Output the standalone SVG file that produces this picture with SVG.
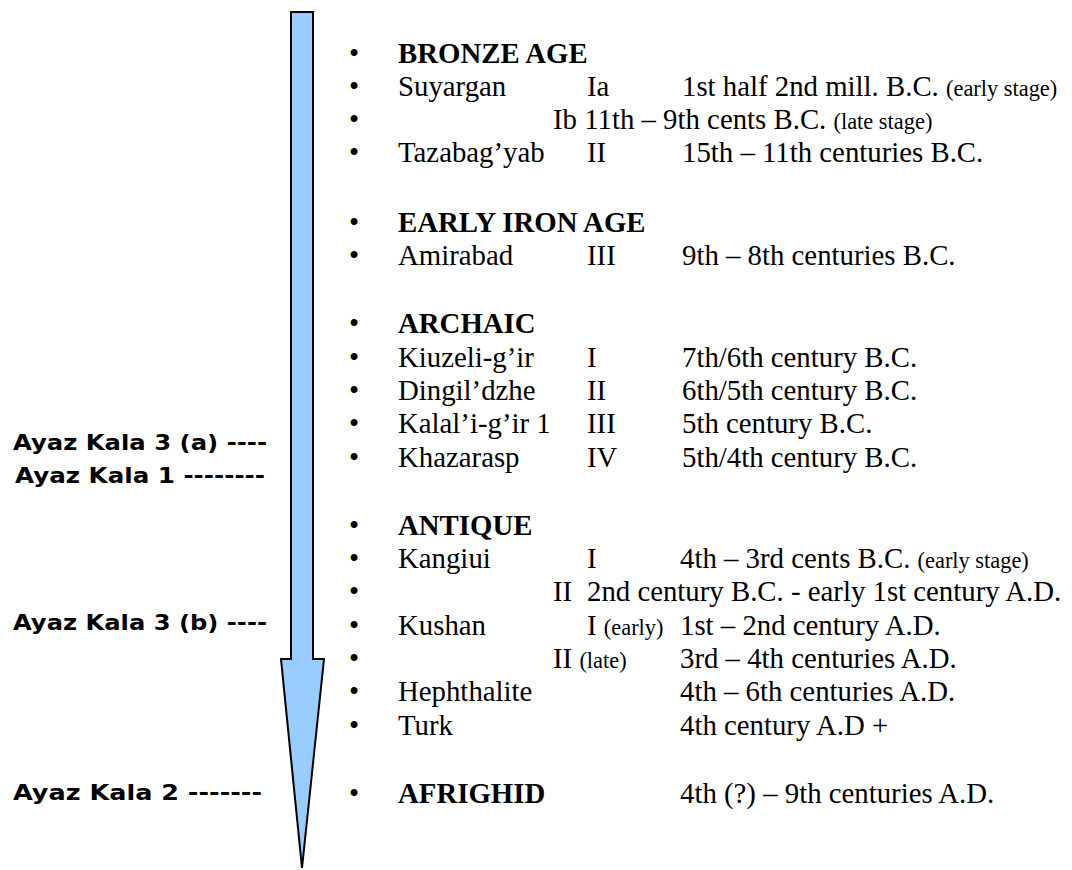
<svg xmlns="http://www.w3.org/2000/svg" width="1072" height="870" viewBox="0 0 1072 870">
<style>
.t{font-family:"Liberation Serif","Times New Roman",serif;font-size:28.8px;fill:#000}
.b{font-weight:bold}
.s{font-size:22.4px}
.l{font-family:"DejaVu Sans","Verdana",sans-serif;font-weight:bold;font-size:22px;fill:#000}
</style>
<rect width="1072" height="870" fill="#fff"/>
<g id="arrow">
<path d="M291,12 L313,12 L313,659 L324,659 L302,868 L281,659 L291,659 Z" fill="#99CCFF" stroke="#000" stroke-width="2" stroke-linejoin="miter"/>
</g>
<g id="labels">
<text class="l" x="13" y="450" textLength="254" lengthAdjust="spacingAndGlyphs">Ayaz Kala 3 (a) ----</text>
<text class="l" x="15" y="483" textLength="250" lengthAdjust="spacingAndGlyphs">Ayaz Kala 1 --------</text>
<text class="l" x="13" y="630" textLength="254" lengthAdjust="spacingAndGlyphs">Ayaz Kala 3 (b) ----</text>
<text class="l" x="13" y="800" textLength="249" lengthAdjust="spacingAndGlyphs">Ayaz Kala 2 -------</text>
</g>
<g id="bronze-age" class="t">
<text class="t" x="349" y="63">•</text><text class="t b" x="398" y="63">BRONZE AGE</text>
<text class="t" x="349" y="96">•</text><text class="t" x="398" y="96">Suyargan</text><text class="t" x="587" y="96">Ia</text><text class="t" x="682" y="96">1st half 2nd mill. B.C. <tspan class="s">(early stage)</tspan></text>
<text class="t" x="349" y="129">•</text><text class="t" x="553" y="129">Ib 11th – 9th cents B.C. <tspan class="s">(late stage)</tspan></text>
<text class="t" x="349" y="162">•</text><text class="t" x="398" y="162">Tazabag’yab</text><text class="t" x="587" y="162">II</text><text class="t" x="682" y="162">15th – 11th centuries B.C.</text>
</g>
<g id="early-iron-age">
<text class="t" x="349" y="232">•</text><text class="t b" x="398" y="232">EARLY IRON AGE</text>
<text class="t" x="349" y="265">•</text><text class="t" x="398" y="265">Amirabad</text><text class="t" x="587" y="265">III</text><text class="t" x="682" y="265">9th – 8th centuries B.C.</text>
</g>
<g id="archaic">
<text class="t" x="349" y="333">•</text><text class="t b" x="398" y="333">ARCHAIC</text>
<text class="t" x="349" y="367">•</text><text class="t" x="398" y="367">Kiuzeli-g’ir</text><text class="t" x="587" y="367">I</text><text class="t" x="682" y="367">7th/6th century B.C.</text>
<text class="t" x="349" y="400">•</text><text class="t" x="398" y="400">Dingil’dzhe</text><text class="t" x="587" y="400">II</text><text class="t" x="682" y="400">6th/5th century B.C.</text>
<text class="t" x="349" y="433">•</text><text class="t" x="398" y="433">Kalal’i-g’ir 1</text><text class="t" x="587" y="433">III</text><text class="t" x="682" y="433">5th century B.C.</text>
<text class="t" x="349" y="467">•</text><text class="t" x="398" y="467">Khazarasp</text><text class="t" x="587" y="467">IV</text><text class="t" x="682" y="467">5th/4th century B.C.</text>
</g>
<g id="antique">
<text class="t" x="349" y="535">•</text><text class="t b" x="398" y="535">ANTIQUE</text>
<text class="t" x="349" y="568">•</text><text class="t" x="398" y="568">Kangiui</text><text class="t" x="587" y="568">I</text><text class="t" x="680" y="568">4th – 3rd cents B.C. <tspan class="s">(early stage)</tspan></text>
<text class="t" x="349" y="601">•</text><text class="t" x="553" y="601">II</text><text class="t" x="587" y="601">2nd century B.C. - early 1st century A.D.</text>
<text class="t" x="349" y="635">•</text><text class="t" x="398" y="635">Kushan</text><text class="t" x="587" y="635">I <tspan class="s">(early)</tspan></text><text class="t" x="680" y="635">1st – 2nd century A.D.</text>
<text class="t" x="349" y="668">•</text><text class="t" x="553" y="668">II <tspan class="s">(late)</tspan></text><text class="t" x="680" y="668">3rd – 4th centuries A.D.</text>
<text class="t" x="349" y="701">•</text><text class="t" x="398" y="701">Hephthalite</text><text class="t" x="680" y="701">4th – 6th centuries A.D.</text>
<text class="t" x="349" y="735">•</text><text class="t" x="398" y="735">Turk</text><text class="t" x="680" y="735">4th century A.D +</text>
</g>
<g id="afrighid">
<text class="t" x="349" y="803">•</text><text class="t b" x="398" y="803">AFRIGHID</text><text class="t" x="680" y="803">4th (?) – 9th centuries A.D.</text>
</g>
</svg>
